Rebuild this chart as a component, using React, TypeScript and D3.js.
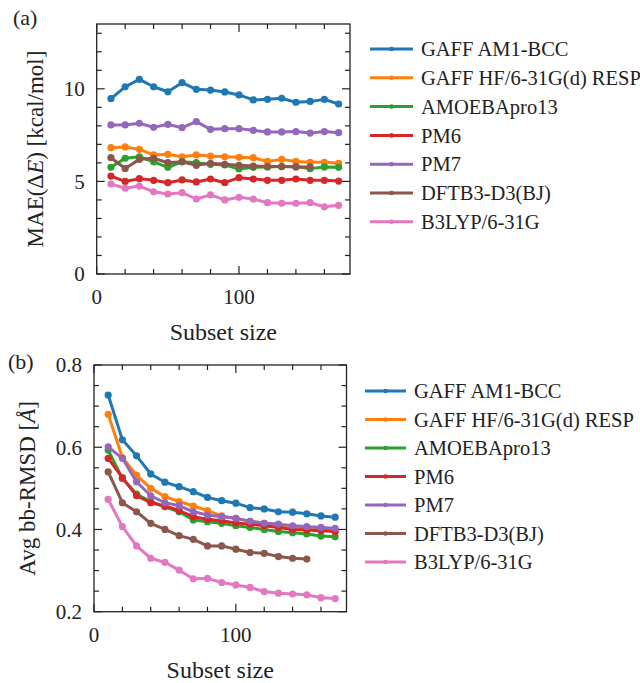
import * as d3 from "d3";

// subset sizes on the x axis
const subsetSizes = [10, 20, 30, 40, 50, 60, 70, 80, 90, 100, 110, 120, 130, 140, 150, 160, 170];

const methods = [
  "GAFF AM1-BCC",
  "GAFF HF/6-31G(d) RESP",
  "AMOEBApro13",
  "PM6",
  "PM7",
  "DFTB3-D3(BJ)",
  "B3LYP/6-31G",
];
const colors = ["#1f77b4", "#ff7f0e", "#2ca02c", "#d62728", "#9467bd", "#8c564b", "#e377c2"];

// (a) MAE(dE) in kcal/mol
const maeAm1Bcc = [9.47, 10.11, 10.51, 10.11, 9.84, 10.33, 9.97, 9.93, 9.83, 9.67, 9.4, 9.43, 9.49, 9.27, 9.32, 9.43, 9.18];
const maeHfResp = [6.82, 6.86, 6.73, 6.43, 6.46, 6.33, 6.43, 6.37, 6.33, 6.3, 6.28, 6.08, 6.19, 6.08, 6.03, 6.03, 5.98];
const maeAmoeba = [5.76, 6.25, 6.33, 6.06, 5.76, 6.06, 6.01, 5.92, 5.89, 5.67, 5.76, 5.78, 5.8, 5.8, 5.69, 5.78, 5.76];
const maePm6 = [5.29, 5.0, 5.15, 5.06, 4.93, 5.08, 4.97, 5.13, 4.93, 5.2, 5.13, 5.06, 5.06, 5.13, 5.06, 5.06, 5.02];
const maePm7 = [8.05, 8.05, 8.14, 7.92, 8.08, 7.9, 8.23, 7.81, 7.85, 7.85, 7.76, 7.67, 7.67, 7.69, 7.61, 7.69, 7.63];
const maeDftb = [6.28, 5.7, 6.19, 6.25, 6.01, 6.06, 5.87, 5.98, 5.92, 5.87, 5.83, 5.8, 5.8, 5.78, 5.78];
const maeB3lyp = [4.86, 4.63, 4.75, 4.44, 4.32, 4.39, 4.05, 4.27, 4.0, 4.14, 4.05, 3.85, 3.82, 3.82, 3.85, 3.63, 3.71];

// (b) average backbone RMSD in angstrom
const rmsdAm1Bcc = [0.727, 0.618, 0.579, 0.535, 0.515, 0.504, 0.492, 0.478, 0.47, 0.464, 0.453, 0.45, 0.443, 0.442, 0.438, 0.433, 0.43];
const rmsdHfResp = [0.68, 0.575, 0.532, 0.5, 0.48, 0.468, 0.457, 0.446, 0.433, 0.427, 0.42, 0.415, 0.411, 0.407, 0.403, 0.4, 0.397];
const rmsdAmoeba = [0.593, 0.524, 0.486, 0.468, 0.455, 0.443, 0.423, 0.419, 0.415, 0.409, 0.405, 0.4, 0.395, 0.392, 0.389, 0.384, 0.382];
const rmsdPm6 = [0.573, 0.526, 0.482, 0.465, 0.457, 0.446, 0.431, 0.425, 0.421, 0.416, 0.413, 0.409, 0.405, 0.4, 0.399, 0.397, 0.395];
const rmsdPm7 = [0.601, 0.573, 0.516, 0.482, 0.465, 0.458, 0.443, 0.435, 0.431, 0.427, 0.42, 0.415, 0.413, 0.409, 0.407, 0.405, 0.403];
const rmsdDftb = [0.54, 0.465, 0.443, 0.415, 0.4, 0.385, 0.376, 0.36, 0.36, 0.352, 0.344, 0.342, 0.334, 0.33, 0.328];
const rmsdB3lyp = [0.473, 0.407, 0.36, 0.33, 0.32, 0.301, 0.28, 0.281, 0.271, 0.265, 0.259, 0.249, 0.245, 0.243, 0.241, 0.234, 0.232];

const xMajor = [0, 100];
const xMinor = [20, 40, 60, 80, 120, 140, 160];
const yMajorA = [0, 5, 10];
const yMajorB = [0.2, 0.4, 0.6, 0.8];

const FONT = "'Liberation Serif', serif";
const INK = "#222";

type PanelProps = {
  box: { left: number; right: number; top: number; bottom: number };
  yDomain: [number, number];
  yMajor: number[];
  yMinorStep: number;
  yFmt: (v: number) => string;
  series: number[][];
  letter: string;
  letterPos: [number, number];
  yLabel: React.ReactNode;
  yLabelX: number;
  legend: { x: number; y: number; gap: number; lineLen: number };
};

function Panel({ box, yDomain, yMajor, yMinorStep, yFmt, series, letter, letterPos, yLabel, yLabelX, legend }: PanelProps) {
  const x = d3.scaleLinear().domain([0, 178]).range([box.left, box.right]);
  const y = d3.scaleLinear().domain(yDomain).range([box.bottom, box.top]);
  const line = d3
    .line<number>()
    .x((_, i) => x(subsetSizes[i]))
    .y((d) => y(d));

  const yMinor = d3
    .range(yDomain[0], yDomain[1] + 1e-9, yMinorStep)
    .filter((v) => !yMajor.some((m) => Math.abs(m - v) < 1e-6));

  const majLen = 8;
  const minLen = 5;
  const midY = (box.top + box.bottom) / 2;

  return (
    <g>
      <text x={letterPos[0]} y={letterPos[1]} fontSize={22} fontFamily={FONT} fill={INK}>
        {letter}
      </text>

      {/* data */}
      {series.map((s, k) => (
        <g key={k}>
          <path d={line(s) ?? ""} fill="none" stroke={colors[k]} strokeWidth={3} strokeLinejoin="round" />
          {s.map((v, i) => (
            <circle key={i} cx={x(subsetSizes[i])} cy={y(v)} r={3.6} fill={colors[k]} />
          ))}
        </g>
      ))}

      {/* frame */}
      <rect
        x={box.left}
        y={box.top}
        width={box.right - box.left}
        height={box.bottom - box.top}
        fill="none"
        stroke={INK}
        strokeWidth={1.3}
      />

      {/* x ticks, inward, top and bottom */}
      {xMajor.concat(xMinor).map((t) => {
        const len = xMajor.includes(t) ? majLen : minLen;
        return (
          <g key={"x" + t} stroke={INK} strokeWidth={1.2}>
            <line x1={x(t)} x2={x(t)} y1={box.bottom} y2={box.bottom - len} />
            <line x1={x(t)} x2={x(t)} y1={box.top} y2={box.top + len} />
          </g>
        );
      })}
      {xMajor.map((t) => (
        <text key={"xl" + t} x={x(t)} y={box.bottom + 30} textAnchor="middle" fontSize={21} fontFamily={FONT} fill={INK}>
          {t}
        </text>
      ))}
      <text x={(box.left + box.right) / 2} y={box.bottom + 66} textAnchor="middle" fontSize={24} fontFamily={FONT} fill={INK}>
        Subset size
      </text>

      {/* y ticks, inward, left and right */}
      {yMajor.concat(yMinor).map((t) => {
        const len = yMajor.includes(t) ? majLen : minLen;
        return (
          <g key={"y" + t} stroke={INK} strokeWidth={1.2}>
            <line x1={box.left} x2={box.left + len} y1={y(t)} y2={y(t)} />
            <line x1={box.right} x2={box.right - len} y1={y(t)} y2={y(t)} />
          </g>
        );
      })}
      {yMajor.map((t) => (
        <text key={"yl" + t} x={box.left - 12} y={y(t)} dy="0.35em" textAnchor="end" fontSize={21} fontFamily={FONT} fill={INK}>
          {yFmt(t)}
        </text>
      ))}
      <text
        transform={`translate(${yLabelX},${midY}) rotate(-90)`}
        textAnchor="middle"
        fontSize={23}
        fontFamily={FONT}
        fill={INK}
      >
        {yLabel}
      </text>

      {/* legend */}
      {methods.map((m, k) => {
        const ly = legend.y + k * legend.gap;
        return (
          <g key={m}>
            <line x1={legend.x} x2={legend.x + legend.lineLen} y1={ly} y2={ly} stroke={colors[k]} strokeWidth={3} />
            <circle cx={legend.x + legend.lineLen / 2} cy={ly} r={2.3} fill={colors[k]} />
            <text x={legend.x + legend.lineLen + 8} y={ly} dy="0.35em" fontSize={20.5} fontFamily={FONT} fill={INK}>
              {m}
            </text>
          </g>
        );
      })}
    </g>
  );
}

export default function App() {
  return (
    <svg width={640} height={683} style={{ position: "absolute", left: 0, top: 0, background: "#fff" }}>
      <Panel
        box={{ left: 96.7, right: 350, top: 24, bottom: 274 }}
        yDomain={[0, 13.5]}
        yMajor={yMajorA}
        yMinorStep={1}
        yFmt={(v) => String(v)}
        series={[maeAm1Bcc, maeHfResp, maeAmoeba, maePm6, maePm7, maeDftb, maeB3lyp]}
        letter="(a)"
        letterPos={[13, 25]}
        yLabel={
          <>
            MAE(Δ<tspan fontStyle="italic">E</tspan>) [kcal/mol]
          </>
        }
        yLabelX={43}
        legend={{ x: 370, y: 49, gap: 28.8, lineLen: 43 }}
      />
      <Panel
        box={{ left: 94, right: 346.5, top: 365, bottom: 611.7 }}
        yDomain={[0.2, 0.8]}
        yMajor={yMajorB}
        yMinorStep={0.05}
        yFmt={(v) => v.toFixed(1)}
        series={[rmsdAm1Bcc, rmsdHfResp, rmsdAmoeba, rmsdPm6, rmsdPm7, rmsdDftb, rmsdB3lyp]}
        letter="(b)"
        letterPos={[8, 369]}
        yLabel={
          <>
            Avg bb-RMSD [<tspan fontStyle="italic">Å</tspan>]
          </>
        }
        yLabelX={35}
        legend={{ x: 365, y: 391, gap: 28.5, lineLen: 41 }}
      />
    </svg>
  );
}
